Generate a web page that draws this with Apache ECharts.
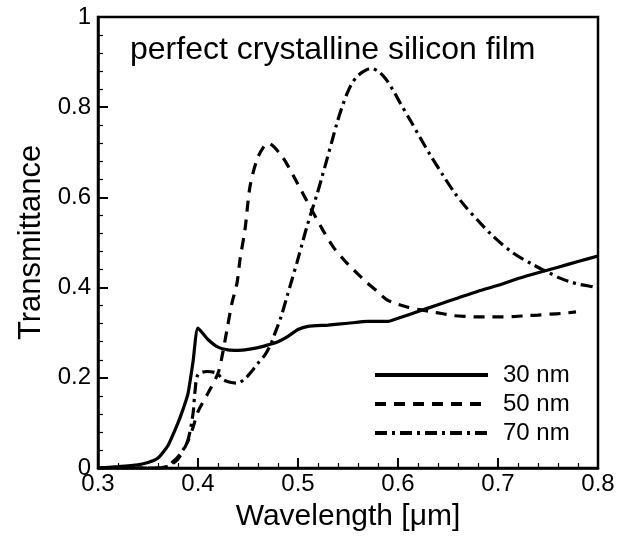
<!DOCTYPE html>
<html>
<head>
<meta charset="utf-8">
<script src="https://cdn.jsdelivr.net/npm/echarts@6/dist/echarts.min.js"></script>
<style>html,body{margin:0;padding:0;background:#fff}#c{width:626px;height:540px}</style>
</head>
<body>
<div id="c"></div>
<script>
const seriesNames = ['30 nm', '50 nm', '70 nm'];
const chartTitle = 'perfect crystalline silicon film';
const xName = 'Wavelength [\u03bcm]';
const yName = 'Transmittance';

const x30 = [0.30,0.32,0.34,0.35,0.36,0.37,0.38,0.385,0.39,0.395,0.40,0.41,0.42,0.43,0.44,0.45,0.46,0.47,0.48,0.49,0.50,0.51,0.53,0.55,0.57,0.59,0.60,0.62,0.64,0.66,0.68,0.70,0.72,0.74,0.76,0.78,0.80];
const y30 = [0.0,0.003,0.007,0.012,0.022,0.05,0.10,0.13,0.165,0.235,0.31,0.285,0.268,0.262,0.261,0.263,0.267,0.273,0.28,0.292,0.307,0.314,0.317,0.321,0.325,0.325,0.332,0.347,0.362,0.377,0.392,0.405,0.42,0.433,0.445,0.458,0.47];

const x50 = [0.30,0.34,0.36,0.37,0.38,0.39,0.395,0.40,0.41,0.42,0.424,0.429,0.434,0.439,0.442,0.447,0.452,0.459,0.465,0.47,0.476,0.484,0.49,0.499,0.507,0.515,0.525,0.535,0.545,0.552,0.56,0.569,0.58,0.589,0.60,0.609,0.62,0.632,0.645,0.655,0.668,0.68,0.69,0.705,0.718,0.729,0.74,0.752,0.765,0.778];
const y50 = [0.0,0.0,0.0,0.004,0.02,0.06,0.09,0.125,0.166,0.21,0.247,0.307,0.366,0.41,0.462,0.529,0.624,0.684,0.71,0.72,0.712,0.691,0.67,0.633,0.6,0.567,0.527,0.491,0.464,0.447,0.43,0.411,0.39,0.373,0.363,0.357,0.352,0.347,0.342,0.338,0.336,0.335,0.335,0.335,0.336,0.338,0.339,0.341,0.343,0.346];

const x70 = [0.30,0.34,0.36,0.37,0.375,0.38,0.385,0.39,0.395,0.397,0.40,0.409,0.419,0.425,0.432,0.439,0.447,0.455,0.461,0.467,0.473,0.477,0.483,0.489,0.494,0.499,0.504,0.509,0.514,0.519,0.524,0.529,0.534,0.539,0.544,0.549,0.554,0.56,0.566,0.573,0.58,0.588,0.595,0.602,0.612,0.622,0.632,0.645,0.657,0.668,0.679,0.695,0.715,0.735,0.75,0.762,0.772,0.782,0.795,0.80];
const y70 = [0.0,0.0,0.0,0.004,0.014,0.025,0.04,0.062,0.12,0.17,0.207,0.214,0.21,0.196,0.19,0.188,0.198,0.218,0.235,0.251,0.275,0.299,0.335,0.38,0.418,0.456,0.496,0.536,0.572,0.607,0.645,0.685,0.725,0.765,0.80,0.83,0.853,0.87,0.88,0.886,0.88,0.862,0.838,0.81,0.772,0.733,0.695,0.649,0.609,0.578,0.551,0.514,0.477,0.451,0.434,0.421,0.413,0.407,0.402,0.40];

function pairs(xs, ys){ return xs.map((x,i)=>[x, ys[i]]); }

const chart = echarts.init(document.getElementById('c'), null, {renderer:'canvas'});
const FONT = 'Liberation Sans, Arial, sans-serif';
const lw = 3.2;
chart.setOption({
  animation: false,
  backgroundColor: '#fff',
  color: ['#000', '#000', '#000'],
  title: {
    text: chartTitle, left: 125, top: 29,
    textStyle: {fontFamily: FONT, fontSize: 32, fontWeight: 'normal', color: '#000'}
  },
  legend: {
    orient: 'vertical', left: 368, top: 358,
    itemWidth: 113, itemHeight: 20, itemGap: 5,
    data: seriesNames,
    itemStyle: {opacity: 0},
    lineStyle: {width: 4},
    textStyle: {fontFamily: FONT, fontSize: 24, lineHeight: 24, color: '#000', padding: [0,0,0,10]}
  },
  grid: {left: 98, right: 28, top: 17, bottom: 72, show: true, borderColor: '#000', borderWidth: 2.5, backgroundColor: 'transparent'},
  xAxis: {
    type: 'value', min: 0.3, max: 0.8, interval: 0.1,
    name: xName, nameLocation: 'middle', nameGap: 34,
    nameTextStyle: {fontFamily: FONT, fontSize: 30, color: '#000'},
    axisLine: {lineStyle: {color: '#000', width: 2.5}},
    axisTick: {inside: true, length: 10, lineStyle: {color: '#000', width: 2}},
    minorTick: {show: true, splitNumber: 5, length: 5, lineStyle: {color: '#000', width: 1.2}},
    axisLabel: {fontFamily: FONT, fontSize: 24, color: '#000', margin: 4,
      formatter: v => v.toFixed(1)},
    splitLine: {show: false}
  },
  yAxis: {
    type: 'value', min: 0, max: 1, interval: 0.2,
    name: yName, nameLocation: 'middle', nameGap: 50,
    nameTextStyle: {fontFamily: FONT, fontSize: 31, color: '#000'},
    axisLine: {lineStyle: {color: '#000', width: 2.5}},
    axisTick: {inside: true, length: 10, lineStyle: {color: '#000', width: 2}},
    minorTick: {show: true, splitNumber: 5, length: 5, lineStyle: {color: '#000', width: 1.2}},
    axisLabel: {fontFamily: FONT, fontSize: 24, color: '#000', margin: 7,
      formatter: v => (v === 0 || v === 1) ? String(v) : v.toFixed(1)},
    splitLine: {show: false}
  },
  series: [
    {name: seriesNames[0], type: 'line', data: pairs(x30, y30), showSymbol: false, symbol: 'none', smooth: 0.2,
      itemStyle: {color: '#000'}, lineStyle: {color: '#000', width: lw, type: 'solid'}},
    {name: seriesNames[1], type: 'line', data: pairs(x50, y50), showSymbol: false, symbol: 'none', smooth: 0.3,
      itemStyle: {color: '#000'}, lineStyle: {color: '#000', width: lw, type: [11, 8]}},
    {name: seriesNames[2], type: 'line', data: pairs(x70, y70), showSymbol: false, symbol: 'none', smooth: 0.3,
      itemStyle: {color: '#000'}, lineStyle: {color: '#000', width: lw, type: [12, 5, 3, 5]}}
  ]
});
</script>
</body>
</html>
